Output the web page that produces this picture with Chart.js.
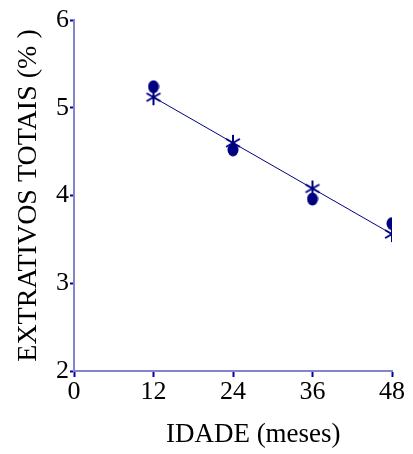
<!DOCTYPE html>
<html>
<head>
<meta charset="utf-8">
<script src="https://cdn.jsdelivr.net/npm/chart.js@4.4.1/dist/chart.umd.min.js"></script>
<style>
  html, body { margin: 0; padding: 0; background: #fff; }
  #wrap { width: 413px; height: 454px; }
</style>
</head>
<body>
<div id="wrap"><canvas id="chart" width="413" height="454"></canvas></div>
<script>
// Data
const ageMonths = [12, 24, 36, 48];
const observed = [5.24, 4.52, 3.96, 3.68];
const fitted = [5.12, 4.60, 4.08, 3.56];
const xTicks = [0, 12, 24, 36, 48];
const yTicks = [2, 3, 4, 5, 6];

const navy = "#000080";

// six-armed asterisk marker
function makeStar() {
  const c = document.createElement("canvas");
  c.width = 18; c.height = 18;
  const g = c.getContext("2d");
  g.strokeStyle = navy;
  g.lineWidth = 2;
  const r = 8;
  [90, 30, 150].forEach((deg) => {
    const a = (deg * Math.PI) / 180;
    g.beginPath();
    g.moveTo(9 - r * Math.cos(a), 9 - r * Math.sin(a));
    g.lineTo(9 + r * Math.cos(a), 9 + r * Math.sin(a));
    g.stroke();
  });
  return c;
}

// slightly tall filled dot
function makeDot() {
  const c = document.createElement("canvas");
  c.width = 12; c.height = 14;
  const g = c.getContext("2d");
  g.fillStyle = navy;
  g.beginPath();
  g.ellipse(6, 7, 5.5, 6.5, 0, 0, Math.PI * 2);
  g.fill();
  return c;
}

const serif = "'Liberation Serif', 'Times New Roman', serif";

new Chart(document.getElementById("chart"), {
  type: "scatter",
  data: {
    datasets: [
      {
        label: "Ajustado",
        data: ageMonths.map((x, i) => ({ x: x, y: fitted[i] })),
        showLine: true,
        borderColor: navy,
        borderWidth: 1,
        pointStyle: makeStar(),
        pointRadius: 9,
      },
      {
        label: "Observado",
        data: ageMonths.map((x, i) => ({ x: x, y: observed[i] })),
        showLine: false,
        pointStyle: makeDot(),
        pointRadius: 7,
      },
    ],
  },
  options: {
    responsive: false,
    animation: false,
    layout: { padding: { top: 20, right: 21, left: 0, bottom: 0 } },
    plugins: {
      legend: { display: false },
      tooltip: { enabled: false },
    },
    scales: {
      x: {
        type: "linear",
        min: 0,
        max: 48,
        afterBuildTicks: (scale) => {
          scale.ticks = xTicks.map((v) => ({ value: v }));
        },
        afterFit: (scale) => {
          scale.height = 83;
        },
        border: { color: "#8484cc", width: 2 },
        grid: {
          drawOnChartArea: false,
          tickLength: 6,
          tickColor: "#0000a8",
          tickWidth: 2,
        },
        ticks: {
          color: "#000",
          padding: 0,
          maxRotation: 0,
          font: { family: serif, size: 26 },
        },
        title: {
          display: true,
          // leading spaces push the title a little right, as in the original
          text: "      IDADE (meses)",
          color: "#000",
          padding: { top: 0, bottom: 3 },
          font: { family: serif, size: 27 },
        },
      },
      y: {
        type: "linear",
        min: 2,
        max: 6,
        afterBuildTicks: (scale) => {
          scale.ticks = yTicks.map((v) => ({ value: v }));
        },
        afterFit: (scale) => {
          scale.width = 74;
        },
        border: { color: "#8484cc", width: 2 },
        grid: {
          drawOnChartArea: false,
          tickLength: 4,
          tickColor: "#0000a8",
          tickWidth: 2,
        },
        ticks: {
          color: "#000",
          padding: 1,
          font: { family: serif, size: 26 },
        },
        title: {
          display: true,
          text: "EXTRATIVOS TOTAIS (% )",
          color: "#000",
          padding: { top: 12, bottom: 0 },
          font: { family: serif, size: 28 },
        },
      },
    },
  },
});
</script>
</body>
</html>
